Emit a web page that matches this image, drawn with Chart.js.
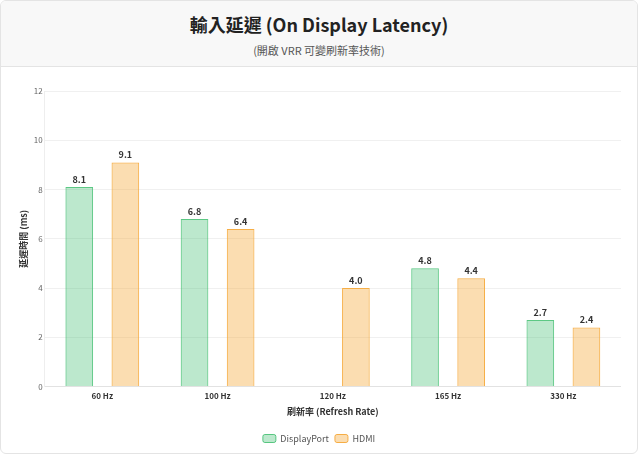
<!DOCTYPE html>
<html>
<head>
<meta charset="utf-8">
<script src="https://cdn.jsdelivr.net/npm/chart.js@4.4.0/dist/chart.umd.min.js"></script>
<style>
  html, body { margin: 0; padding: 0; background: #fff; }
  body { font-family: "Noto Sans CJK TC", "Noto Sans", sans-serif; }
  .card {
    width: 638px; height: 454px; box-sizing: border-box;
    border: 1px solid #e4e4e4; border-radius: 6px; overflow: hidden;
    background: #fff;
  }
  .head {
    height: 66px; box-sizing: border-box; background: #f8f8f8;
    border-bottom: 1px solid #e4e4e4; text-align: center;
  }
  .head h1 { margin: 0; padding-top: 10px; font-size: 18px; line-height: 26px; color: #222; font-weight: 700; }
  .head p { margin: 0; padding-top: 5px; font-size: 11px; line-height: 16px; color: #555; }
  .box { position: relative; height: 386px; padding: 0 16px 0 16px; }
</style>
</head>
<body>
<div class="card">
  <div class="head">
    <h1>輸入延遲 (On Display Latency)</h1>
    <p>(開啟 VRR 可變刷新率技術)</p>
  </div>
  <div class="box"><canvas id="latency"></canvas></div>
</div>
<script>
var refreshRates = ["60 Hz", "100 Hz", "120 Hz", "165 Hz", "330 Hz"];
var displayPort = [8.1, 6.8, null, 4.8, 2.7];
var hdmi = [9.1, 6.4, 4.0, 4.4, 2.4];
var yTicks = [0, 2, 4, 6, 8, 10, 12];

var fontFam = '"Noto Sans CJK TC", "Noto Sans", sans-serif';

// value labels above each bar
var barValues = {
  id: 'barValues',
  afterDatasetsDraw: function (chart) {
    var ctx = chart.ctx;
    ctx.save();
    ctx.font = 'bold 9px ' + fontFam;
    ctx.fillStyle = '#333';
    ctx.textAlign = 'center';
    ctx.textBaseline = 'bottom';
    chart.data.datasets.forEach(function (ds, i) {
      chart.getDatasetMeta(i).data.forEach(function (bar, j) {
        var v = ds.data[j];
        if (v === null || v === undefined) return;
        ctx.fillText(v.toFixed(1), bar.x, bar.y - 3);
      });
    });
    ctx.restore();
  }
};

new Chart(document.getElementById("latency"), {
  type: 'bar',
  data: {
    labels: refreshRates,
    datasets: [
      {
        label: "DisplayPort",
        backgroundColor: "rgba(46, 184, 100, 0.32)",
        borderColor: "rgba(64, 190, 110, 0.85)",
        borderWidth: 1,
        data: displayPort
      },
      {
        label: "HDMI",
        backgroundColor: "rgba(246, 170, 60, 0.4)",
        borderColor: "rgba(245, 170, 60, 0.95)",
        borderWidth: 1,
        data: hdmi
      }
    ]
  },
  options: {
    responsive: true,
    maintainAspectRatio: false,
    animation: false,
    layout: { padding: { top: 24, bottom: 0 } },
    barPercentage: 0.6,
    categoryPercentage: 0.8,
    plugins: {
      legend: {
        position: 'bottom',
        labels: {
          boxWidth: 13, boxHeight: 8, padding: 6,
          color: '#555',
          font: { family: fontFam, size: 9 },
          useBorderRadius: true, borderRadius: 2
        }
      },
      tooltip: { enabled: false }
    },
    scales: {
      x: {
        grid: { display: false, drawTicks: false },
        border: { color: '#e2e2e2' },
        ticks: { color: '#333', padding: 5, font: { family: fontFam, size: 8, weight: 'bold' } },
        title: { display: true, text: '刷新率 (Refresh Rate)', color: '#333', padding: { top: 0, bottom: 11 }, font: { family: fontFam, size: 9, weight: 'bold' } }
      },
      y: {
        min: 0, max: 12,
        afterBuildTicks: function (axis) {
          axis.ticks = yTicks.map(function (v) { return { value: v }; });
        },
        grid: { color: '#f0f0f0', drawTicks: false },
        border: { color: '#eeeeee' },
        ticks: { color: '#666', padding: 2, font: { family: fontFam, size: 8 } },
        title: { display: true, text: '延遲時間 (ms)', color: '#333', padding: { top: 1, bottom: 3 }, font: { family: fontFam, size: 9, weight: 'bold' } }
      }
    }
  },
  plugins: [barValues]
});
</script>
</body>
</html>
